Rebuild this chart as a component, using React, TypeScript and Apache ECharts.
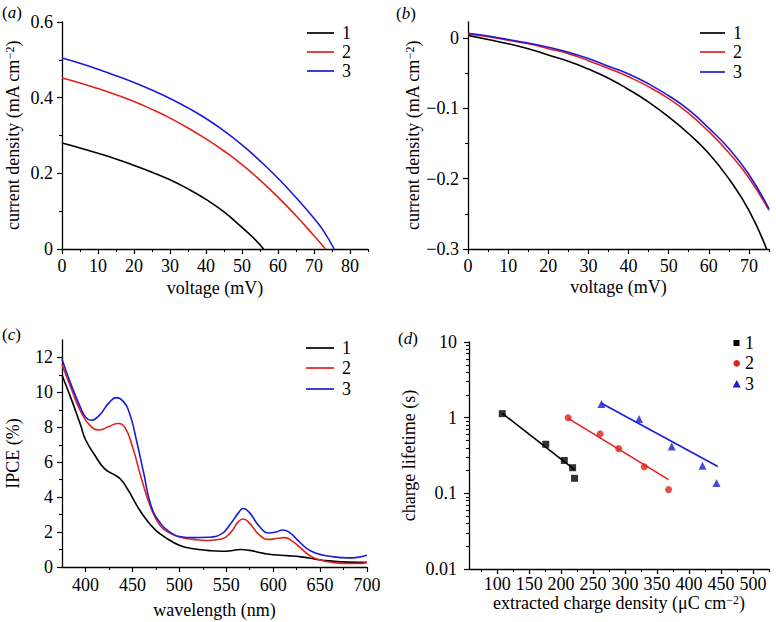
import React, { useEffect, useRef } from 'react';
import * as echarts from 'echarts';

const seriesNames = ['1', '2', '3'];
const colors = ['#000000', '#e3211c', '#1c1cd6'];
const FONT = '"Liberation Serif", "Times New Roman", serif';

// ---------- (a) J-V under light ----------
const aV1 = [0, 5, 10, 15, 20, 25, 30, 35, 40, 45, 50, 53, 56];
const aJ1 = [0.28, 0.267, 0.253, 0.238, 0.221, 0.203, 0.183, 0.159, 0.131, 0.098, 0.057, 0.031, 0];
const aV2 = [0, 5, 10, 15, 20, 25, 30, 35, 40, 45, 50, 55, 60, 65, 70, 73.2];
const aJ2 = [0.452, 0.439, 0.424, 0.408, 0.39, 0.369, 0.346, 0.32, 0.291, 0.259, 0.223, 0.182, 0.137, 0.088, 0.035, 0];
const aV3 = [0, 5, 10, 15, 20, 25, 30, 35, 40, 45, 50, 55, 60, 65, 70, 72.5, 75.6];
const aJ3 = [0.505, 0.491, 0.475, 0.458, 0.44, 0.42, 0.398, 0.373, 0.345, 0.312, 0.275, 0.233, 0.187, 0.136, 0.081, 0.05, 0];
const aXMajor = [0, 10, 20, 30, 40, 50, 60, 70, 80];
const aXMinor = [5, 15, 25, 35, 45, 55, 65, 75, 85];
const aYMajor = [0, 0.2, 0.4, 0.6];
const aYMinor = [0.1, 0.3, 0.5];

// ---------- (b) J-V in dark ----------
const bV1 = [0, 5, 10, 15, 20, 25, 30, 35, 40, 45, 50, 55, 60, 65, 70, 74.4];
const bJ1 = [0.004, -0.002, -0.008, -0.015, -0.024, -0.033, -0.044, -0.057, -0.073, -0.091, -0.112, -0.136, -0.164, -0.2, -0.245, -0.3];
const bV23 = [0, 5, 10, 15, 20, 25, 30, 35, 40, 45, 50, 55, 60, 65, 70, 75];
const bJ2 = [0.006, 0.002, -0.003, -0.008, -0.015, -0.022, -0.032, -0.043, -0.055, -0.069, -0.086, -0.107, -0.133, -0.163, -0.199, -0.245];
const bJ3 = [0.007, 0.003, -0.002, -0.007, -0.013, -0.02, -0.029, -0.04, -0.051, -0.065, -0.082, -0.102, -0.128, -0.157, -0.194, -0.243];
const bXMajor = [0, 10, 20, 30, 40, 50, 60, 70];
const bXMinor = [5, 15, 25, 35, 45, 55, 65, 75];
const bYMajor = [-0.3, -0.2, -0.1, 0];
const bYMinor = [-0.25, -0.15, -0.05];

// ---------- (c) IPCE ----------
const cW1 = [375, 385, 395, 400, 410, 420, 430, 437, 445, 455, 465, 475, 485, 500, 515, 530, 545, 555, 565, 575, 590, 600, 615, 630, 645, 660, 680, 700];
const cI1 = [11.0, 9.6, 8.1, 7.3, 6.4, 5.65, 5.3, 5.05, 4.45, 3.5, 2.7, 2.1, 1.7, 1.25, 1.05, 0.95, 0.9, 0.93, 1.0, 0.95, 0.78, 0.7, 0.65, 0.58, 0.45, 0.35, 0.28, 0.27];
const cW2 = [375, 385, 395, 405, 415, 425, 435, 442, 450, 460, 470, 480, 490, 500, 515, 530, 545, 555, 563, 568, 575, 585, 595, 605, 612, 620, 630, 640, 650, 665, 680, 690, 700];
const cI2 = [11.6, 10.2, 8.9, 8.1, 7.85, 8.05, 8.22, 8.0, 6.9, 5.0, 3.35, 2.35, 1.95, 1.72, 1.58, 1.52, 1.6, 2.0, 2.6, 2.75, 2.5, 1.85, 1.58, 1.65, 1.68, 1.5, 1.05, 0.62, 0.4, 0.25, 0.2, 0.2, 0.25];
const cW3 = [375, 385, 395, 400, 406, 415, 425, 433, 440, 447, 455, 462, 470, 480, 490, 500, 515, 530, 545, 555, 563, 568, 575, 585, 595, 603, 610, 617, 625, 635, 645, 660, 680, 690, 700];
const cI3 = [11.9, 10.4, 9.1, 8.6, 8.4, 8.7, 9.4, 9.7, 9.5, 8.8, 7.1, 5.4, 3.5, 2.5, 2.0, 1.75, 1.68, 1.7, 1.9, 2.5, 3.1, 3.35, 3.1, 2.35, 1.95, 2.0, 2.12, 2.0, 1.6, 1.1, 0.8, 0.62, 0.52, 0.55, 0.67];
const cXMajor = [400, 450, 500, 550, 600, 650, 700];
const cXMinor = [425, 475, 525, 575, 625, 675];
const cYMajor = [0, 2, 4, 6, 8, 10, 12];
const cYMinor = [1, 3, 5, 7, 9, 11];

// ---------- (d) charge lifetime ----------
const dQ1 = [108, 176, 205, 218, 221];
const dT1 = [1.13, 0.445, 0.272, 0.218, 0.158];
const dQ2 = [211, 261, 290, 330, 368];
const dT2 = [1.0, 0.61, 0.39, 0.225, 0.112];
const dQ3 = [263, 322, 373, 421, 443];
const dT3 = [1.52, 0.96, 0.415, 0.232, 0.137];
const dFitQ1 = [108, 221];
const dFitT1 = [1.14, 0.205];
const dFitQ2 = [211, 368];
const dFitT2 = [0.98, 0.152];
const dFitQ3 = [263, 445];
const dFitT3 = [1.55, 0.226];
const dXMajor = [100, 150, 200, 250, 300, 350, 400, 450, 500];
const dXMinor = [75, 125, 175, 225, 275, 325, 375, 425, 475, 525];
const dYMajor = [0.01, 0.1, 1, 10];
const dYMinor = [0.02, 0.03, 0.04, 0.05, 0.06, 0.07, 0.08, 0.09, 0.2, 0.3, 0.4, 0.5, 0.6, 0.7, 0.8, 0.9, 2, 3, 4, 5, 6, 7, 8, 9];

const zip = (xs: number[], ys: number[]) => xs.map((x, i) => [x, ys[i]]);

const fmt = (v: number) => {
  const s = String(Math.round(v * 1000) / 1000);
  return s.replace('-', '\u2212');
};

const TICK_FS = 18;
const NAME_FS = 18;

const rich = {
  sup: { fontFamily: FONT, fontSize: 12, color: '#000', verticalAlign: 'top', lineHeight: 15 },
};

function axisPair(p: any) {
  const major: any = {
    type: p.type || 'value',
    gridIndex: p.grid,
    min: p.min,
    max: p.max,
    position: p.position,
    name: p.name,
    nameLocation: 'middle',
    nameGap: p.nameGap,
    nameTextStyle: { fontFamily: FONT, fontSize: NAME_FS, color: '#000', rich },
    axisLine: { show: true, onZero: false, lineStyle: { color: '#000', width: 1.3 } },
    axisTick: { show: true, inside: false, length: 5, customValues: p.major, lineStyle: { color: '#000', width: 1.2 } },
    minorTick: { show: false },
    axisLabel: {
      show: true,
      customValues: p.major,
      margin: p.labelMargin,
      fontFamily: FONT,
      fontSize: TICK_FS,
      color: '#000',
      formatter: (v: number) => fmt(v),
    },
    splitLine: { show: false },
  };
  if (p.type === 'log') major.logBase = 10;
  const minor: any = {
    type: p.type || 'value',
    gridIndex: p.grid,
    min: p.min,
    max: p.max,
    position: p.position,
    axisLine: { show: false, onZero: false },
    axisTick: { show: true, inside: false, length: 3, customValues: p.minor, lineStyle: { color: '#000', width: 1.1 } },
    minorTick: { show: false },
    axisLabel: { show: false },
    splitLine: { show: false },
  };
  if (p.type === 'log') minor.logBase = 10;
  return [major, minor];
}

function lineSeries(name: string, data: number[][], color: string, xi: number, yi: number, smooth = true) {
  return {
    type: 'line',
    name,
    data,
    xAxisIndex: xi,
    yAxisIndex: yi,
    showSymbol: false,
    symbol: 'none',
    smooth,
    lineStyle: { color, width: 1.6 },
    itemStyle: { color },
    silent: true,
  };
}

function legendLines(x0: number, x1: number, ys: number[], tx: number) {
  const els: any[] = [];
  ys.forEach((y, i) => {
    els.push({ type: 'line', shape: { x1: x0, y1: y, x2: x1, y2: y }, style: { stroke: colors[i], lineWidth: 1.7 } });
    els.push({
      type: 'text',
      x: tx,
      y,
      style: { text: seriesNames[i], fontFamily: FONT, fontSize: 18, fill: '#000', verticalAlign: 'middle', align: 'left' },
    });
  });
  return els;
}

function panelLabel(x: number, y: number, letter: string) {
  return {
    type: 'text',
    x,
    y,
    style: {
      text: '(' + '{i|' + letter + '})',
      fontFamily: FONT,
      fontSize: 17,
      fill: '#000',
      verticalAlign: 'middle',
      rich: { i: { fontFamily: FONT, fontSize: 17, fontStyle: 'italic', fill: '#000' } },
    },
  };
}

export default function App() {
  const ref = useRef<HTMLDivElement>(null);
  useEffect(() => {
    if (!ref.current) return;
    const chart = echarts.init(ref.current, undefined, { renderer: 'svg' });

    const xA = axisPair({ grid: 0, min: 0, max: 85, position: 'bottom', major: aXMajor, minor: aXMinor, name: 'voltage (mV)', nameGap: 30, labelMargin: 8 });
    const yA = axisPair({ grid: 0, min: 0, max: 0.6, position: 'left', major: aYMajor, minor: aYMinor, name: 'current density (mA cm{sup|\u22122})', nameGap: 40, labelMargin: 9 });
    const xB = axisPair({ grid: 1, min: 0, max: 75, position: 'bottom', major: bXMajor, minor: bXMinor, name: 'voltage (mV)', nameGap: 29, labelMargin: 8 });
    const yB = axisPair({ grid: 1, min: -0.3, max: 0.023, position: 'left', major: bYMajor, minor: bYMinor, name: 'current density (mA cm{sup|\u22122})', nameGap: 46, labelMargin: 9 });
    const xC = axisPair({ grid: 2, min: 375, max: 700, position: 'bottom', major: cXMajor, minor: cXMinor, name: 'wavelength (nm)', nameGap: 34, labelMargin: 9 });
    const yC = axisPair({ grid: 2, min: 0, max: 13, position: 'left', major: cYMajor, minor: cYMinor, name: 'IPCE (%)', nameGap: 40, labelMargin: 9 });
    const xD = axisPair({ grid: 3, min: 56, max: 525, position: 'bottom', major: dXMajor, minor: dXMinor, name: 'extracted charge density (\u03bcC cm{sup|\u22122})', nameGap: 22, labelMargin: 6 });
    const yD = axisPair({ grid: 3, type: 'log', min: 0.01, max: 10, position: 'left', major: dYMajor, minor: dYMinor, name: 'charge lifetime (s)', nameGap: 51, labelMargin: 12 });

    const scatter = (name: string, data: number[][], color: string, symbol: string, size: number) => ({
      type: 'scatter',
      name,
      data,
      xAxisIndex: 6,
      yAxisIndex: 6,
      symbol,
      symbolSize: size,
      itemStyle: { color },
      silent: true,
    });

    const option: any = {
      animation: false,
      backgroundColor: '#ffffff',
      textStyle: { fontFamily: FONT },
      grid: [
        { left: 62, top: 22, width: 306, height: 227, containLabel: false, outerBoundsMode: 'none' },
        { left: 468, top: 22, width: 301, height: 227, containLabel: false, outerBoundsMode: 'none' },
        { left: 62, top: 340, width: 305, height: 227, containLabel: false, outerBoundsMode: 'none' },
        { left: 469, top: 342, width: 300, height: 227, containLabel: false, outerBoundsMode: 'none' },
      ],
      xAxis: [...xA, ...xB, ...xC, ...xD],
      yAxis: [...yA, ...yB, ...yC, ...yD],
      series: [
        lineSeries('1', zip(aV1, aJ1), colors[0], 0, 0),
        lineSeries('2', zip(aV2, aJ2), colors[1], 0, 0),
        lineSeries('3', zip(aV3, aJ3), colors[2], 0, 0),
        lineSeries('1', zip(bV1, bJ1), colors[0], 2, 2),
        lineSeries('2', zip(bV23, bJ2), colors[1], 2, 2),
        lineSeries('3', zip(bV23, bJ3), colors[2], 2, 2),
        lineSeries('1', zip(cW1, cI1), colors[0], 4, 4),
        lineSeries('2', zip(cW2, cI2), colors[1], 4, 4),
        lineSeries('3', zip(cW3, cI3), colors[2], 4, 4),
        lineSeries('1', zip(dFitQ1, dFitT1), colors[0], 6, 6, false),
        lineSeries('2', zip(dFitQ2, dFitT2), colors[1], 6, 6, false),
        lineSeries('3', zip(dFitQ3, dFitT3), colors[2], 6, 6, false),
        scatter('1', zip(dQ1, dT1), colors[0], 'rect', 7),
        scatter('2', zip(dQ2, dT2), colors[1], 'circle', 7),
        scatter('3', zip(dQ3, dT3), colors[2], 'triangle', 8),
      ],
      graphic: [
        panelLabel(2, 12, 'a'),
        panelLabel(396, 13, 'b'),
        panelLabel(2, 334, 'c'),
        panelLabel(398, 338, 'd'),
        ...legendLines(307, 334, [33, 52, 71], 342),
        ...legendLines(700, 725, [33, 52, 72], 733),
        ...legendLines(306, 334, [348, 368, 389], 342),
        { type: 'rect', shape: { x: 733.5, y: 340, width: 6, height: 6 }, style: { fill: colors[0] } },
        { type: 'circle', shape: { cx: 736.7, cy: 363.3, r: 3.3 }, style: { fill: colors[1] } },
        { type: 'polygon', shape: { points: [[736.7, 380], [740.7, 387.5], [732.7, 387.5]] }, style: { fill: colors[2] } },
        ...[343.3, 363.3, 384].map((y, i) => ({
          type: 'text',
          x: 745,
          y,
          style: { text: seriesNames[i], fontFamily: FONT, fontSize: 18, fill: '#000', verticalAlign: 'middle', align: 'left' },
        })),
      ],
    };
    chart.setOption(option);
    return () => chart.dispose();
  }, []);
  return (
    <div
      ref={ref}
      style={{ position: 'absolute', left: 0, top: 0, width: 776, height: 622, background: '#fff' }}
    />
  );
}
